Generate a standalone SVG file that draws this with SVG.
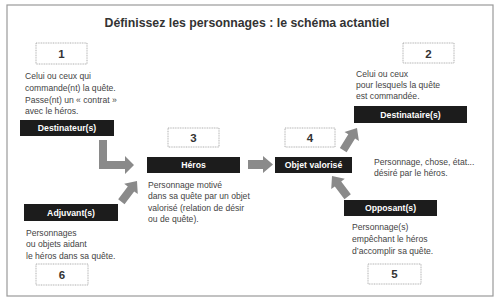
<svg xmlns="http://www.w3.org/2000/svg" xmlns:xlink="http://www.w3.org/1999/xlink" width="501" height="306" viewBox="0 0 501 306">
  <style>
    .frame { fill: #ffffff; stroke: #9a9a9a; stroke-width: 1.2; }
    .title { font-family: "Liberation Sans", Arial, sans-serif; font-weight: bold; font-size: 12.3px; fill: #333333; text-anchor: middle; }
    .num { fill: #ffffff; stroke: #9a9a9a; stroke-width: 0.8; stroke-dasharray: 1 0.7; }
    .numtxt { font-family: "Liberation Sans", Arial, sans-serif; font-weight: bold; font-size: 11.5px; fill: #333333; text-anchor: middle; }
    .label { fill: #1c1c1c; }
    .labeltxt { font-family: "Liberation Sans", Arial, sans-serif; font-weight: bold; font-size: 8.7px; fill: #ffffff; text-anchor: middle; }
    .desc { font-family: "Liberation Sans", Arial, sans-serif; font-size: 8.6px; fill: #444444; }
    .arrow { fill: #8a8a8a; }
  </style>
  <defs>
    <!-- block arrow pointing along +x, tip at the origin -->
    <path id="blockArrow" d="M-26,-4 H-10 V-8.5 L0,0 L-10,8.5 V4 H-26 Z"/>
  </defs>

  <rect class="frame" x="7" y="5" width="486" height="291"/>
  <text class="title" x="247" y="27">Définissez les personnages : le schéma actantiel</text>

  <g id="destinateur">
    <rect class="num" x="36" y="43" width="51" height="21"/>
    <text class="numtxt" x="61.5" y="58">1</text>
    <text class="desc" x="25" y="79">Celui ou ceux qui</text>
    <text class="desc" x="25" y="91">commande(nt) la quête.</text>
    <text class="desc" x="25" y="103">Passe(nt) un « contrat »</text>
    <text class="desc" x="25" y="114">avec le héros.</text>
    <rect class="label" x="20" y="120" width="94" height="16"/>
    <text class="labeltxt" x="67" y="131">Destinateur(s)</text>
  </g>

  <g id="destinataire">
    <rect class="num" x="403" y="43" width="51" height="20"/>
    <text class="numtxt" x="428.5" y="57.5">2</text>
    <text class="desc" x="356" y="77">Celui ou ceux</text>
    <text class="desc" x="356" y="88">pour lesquels la quête</text>
    <text class="desc" x="356" y="99">est commandée.</text>
    <rect class="label" x="354" y="106" width="113" height="17"/>
    <text class="labeltxt" x="410.5" y="117.5">Destinataire(s)</text>
  </g>

  <g id="heros">
    <rect class="num" x="168" y="128" width="51" height="19"/>
    <text class="numtxt" x="193.5" y="141.5">3</text>
    <rect class="label" x="147" y="157" width="93" height="16"/>
    <text class="labeltxt" x="193.5" y="168">Héros</text>
    <text class="desc" x="148" y="188">Personnage motivé</text>
    <text class="desc" x="148" y="199">dans sa quête par un objet</text>
    <text class="desc" x="148" y="211">valorisé (relation de désir</text>
    <text class="desc" x="148" y="222">ou de quête).</text>
  </g>

  <g id="objet">
    <rect class="num" x="285" y="128" width="50" height="19"/>
    <text class="numtxt" x="310" y="141.5">4</text>
    <rect class="label" x="275" y="157" width="77" height="16"/>
    <text class="labeltxt" x="313.5" y="168">Objet valorisé</text>
    <text class="desc" x="374" y="165">Personnage, chose, état...</text>
    <text class="desc" x="374" y="176">désiré par le héros.</text>
  </g>

  <g id="opposant">
    <rect class="label" x="344" y="200" width="93" height="16"/>
    <text class="labeltxt" x="390.5" y="211">Opposant(s)</text>
    <text class="desc" x="352" y="230">Personnage(s)</text>
    <text class="desc" x="352" y="242">empêchant le héros</text>
    <text class="desc" x="352" y="254">d’accomplir sa quête.</text>
    <rect class="num" x="368" y="264" width="53" height="20"/>
    <text class="numtxt" x="394.5" y="278">5</text>
  </g>

  <g id="adjuvant">
    <rect class="label" x="24" y="204" width="94" height="17"/>
    <text class="labeltxt" x="71" y="215.5">Adjuvant(s)</text>
    <text class="desc" x="26" y="236">Personnages</text>
    <text class="desc" x="26" y="247">ou objets aidant</text>
    <text class="desc" x="26" y="259">le héros dans sa quête.</text>
    <rect class="num" x="36" y="264" width="52" height="21"/>
    <text class="numtxt" x="62" y="278.5">6</text>
  </g>

  <g id="connectors">
    <!-- destinateur to héros (elbow) -->
    <polygon class="arrow" points="99,140 107,140 107,161 125,161 125,156 134,165 125,174 125,169 99,169"/>
    <!-- héros to objet -->
    <polygon class="arrow" points="248,160 263,160 263,156 273,164.5 263,173 263,169 248,169"/>
    <!-- adjuvant to héros -->
    <use xlink:href="#blockArrow" class="arrow" transform="translate(137,181) rotate(-53)"/>
    <!-- objet to destinataire -->
    <use xlink:href="#blockArrow" class="arrow" transform="translate(357,128) rotate(-58)"/>
    <!-- opposant to objet -->
    <use xlink:href="#blockArrow" class="arrow" transform="translate(332,176) rotate(-127)"/>
  </g>
</svg>
